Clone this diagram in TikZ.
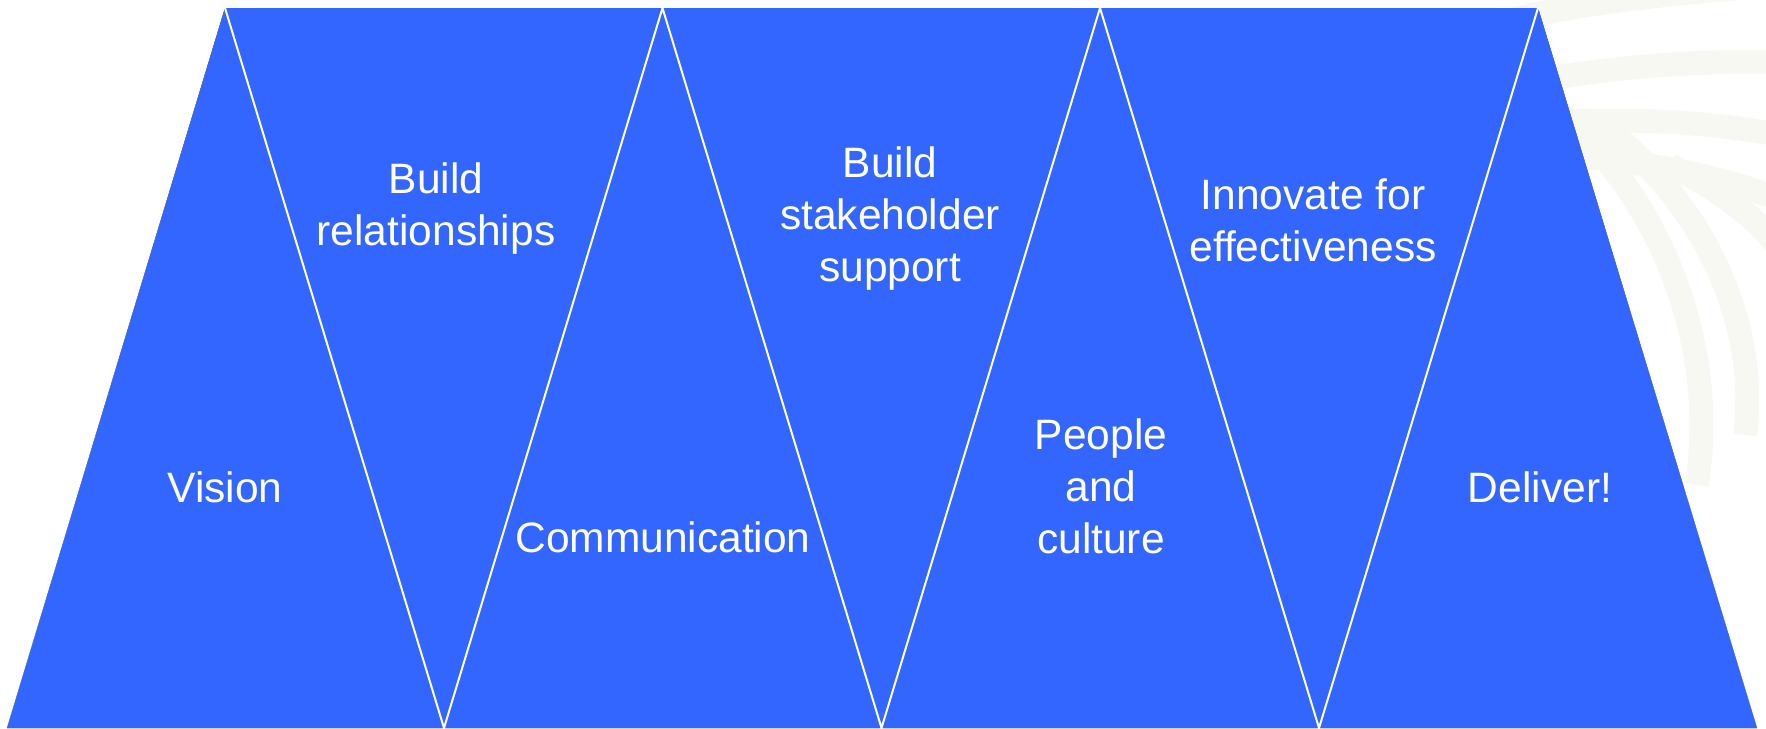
\documentclass[tikz,border=0pt]{standalone}
\usepackage{fontspec}
\setmainfont{Liberation Sans}
\definecolor{bandblue}{RGB}{51,102,255}
\definecolor{shade}{RGB}{214,214,214}
\definecolor{swirl}{RGB}{248,248,242}
\tikzset{
  lbl/.style={text=white, font=\fontsize{21.25pt}{26pt}\selectfont, align=center, inner sep=0pt},
  sep/.style={draw=white, line width=1pt},
  swirlband/.style={draw=swirl, line width=12pt, line cap=butt}
}
\begin{document}
\begin{tikzpicture}[x=0.5pt, y=-0.5pt]
\useasboundingbox (0,0) rectangle (1766,728);
% faint background swirl
\begin{scope}
\clip (1380,0) rectangle (1766,728);
\draw[swirlband] (1420,45) .. controls (1540,5) and (1650,-5) .. (1780,-15);
\draw[swirlband] (1450,100) .. controls (1560,70) and (1680,60) .. (1780,62);
\draw[swirlband] (1470,128) .. controls (1600,115) and (1700,120) .. (1780,135);
\draw[swirlband] (1490,150) .. controls (1620,155) and (1720,175) .. (1780,200);
\draw[swirlband] (1560,112) .. controls (1650,190) and (1720,330) .. (1697,485);
\draw[swirlband] (1605,128) .. controls (1700,200) and (1760,320) .. (1745,435);
\draw[swirlband] (1670,165) .. controls (1720,190) and (1760,220) .. (1780,250);
\end{scope}
% vertices
\coordinate (b0) at (7,728);
\coordinate (b1) at (444,728);
\coordinate (b2) at (881.5,728);
\coordinate (b3) at (1319,728);
\coordinate (b4) at (1757,728);
\coordinate (t1) at (225,8);
\coordinate (t2) at (662.5,8);
\coordinate (t3) at (1100,8);
\coordinate (t4) at (1538,8);
% shadow
\fill[shade, xshift=1pt, yshift=1pt] (b0) -- (t1) -- (t4) -- (b4) -- cycle;
% main band
\fill[bandblue] (b0) -- (t1) -- (t4) -- (b4) -- cycle;
% separators
\draw[sep] (t1) -- (b1) -- (t2) -- (b2) -- (t3) -- (b3) -- (t4);
% labels
\node[lbl] (vision) at (225,487) {Vision};
\node[lbl] (rel) at (436,209) {Build\\relationships};
\node[lbl] (comm) at (663,537) {Communication};
\node[lbl] (stake) at (890,219) {Build\\stakeholder\\support};
\node[lbl] (people) at (1101,486) {People\\and\\culture};
\node[lbl] (innov) at (1313,220) {Innovate for\\effectiveness};
\node[lbl] (deliver) at (1540,487) {Deliver!};
\end{tikzpicture}
\end{document}
